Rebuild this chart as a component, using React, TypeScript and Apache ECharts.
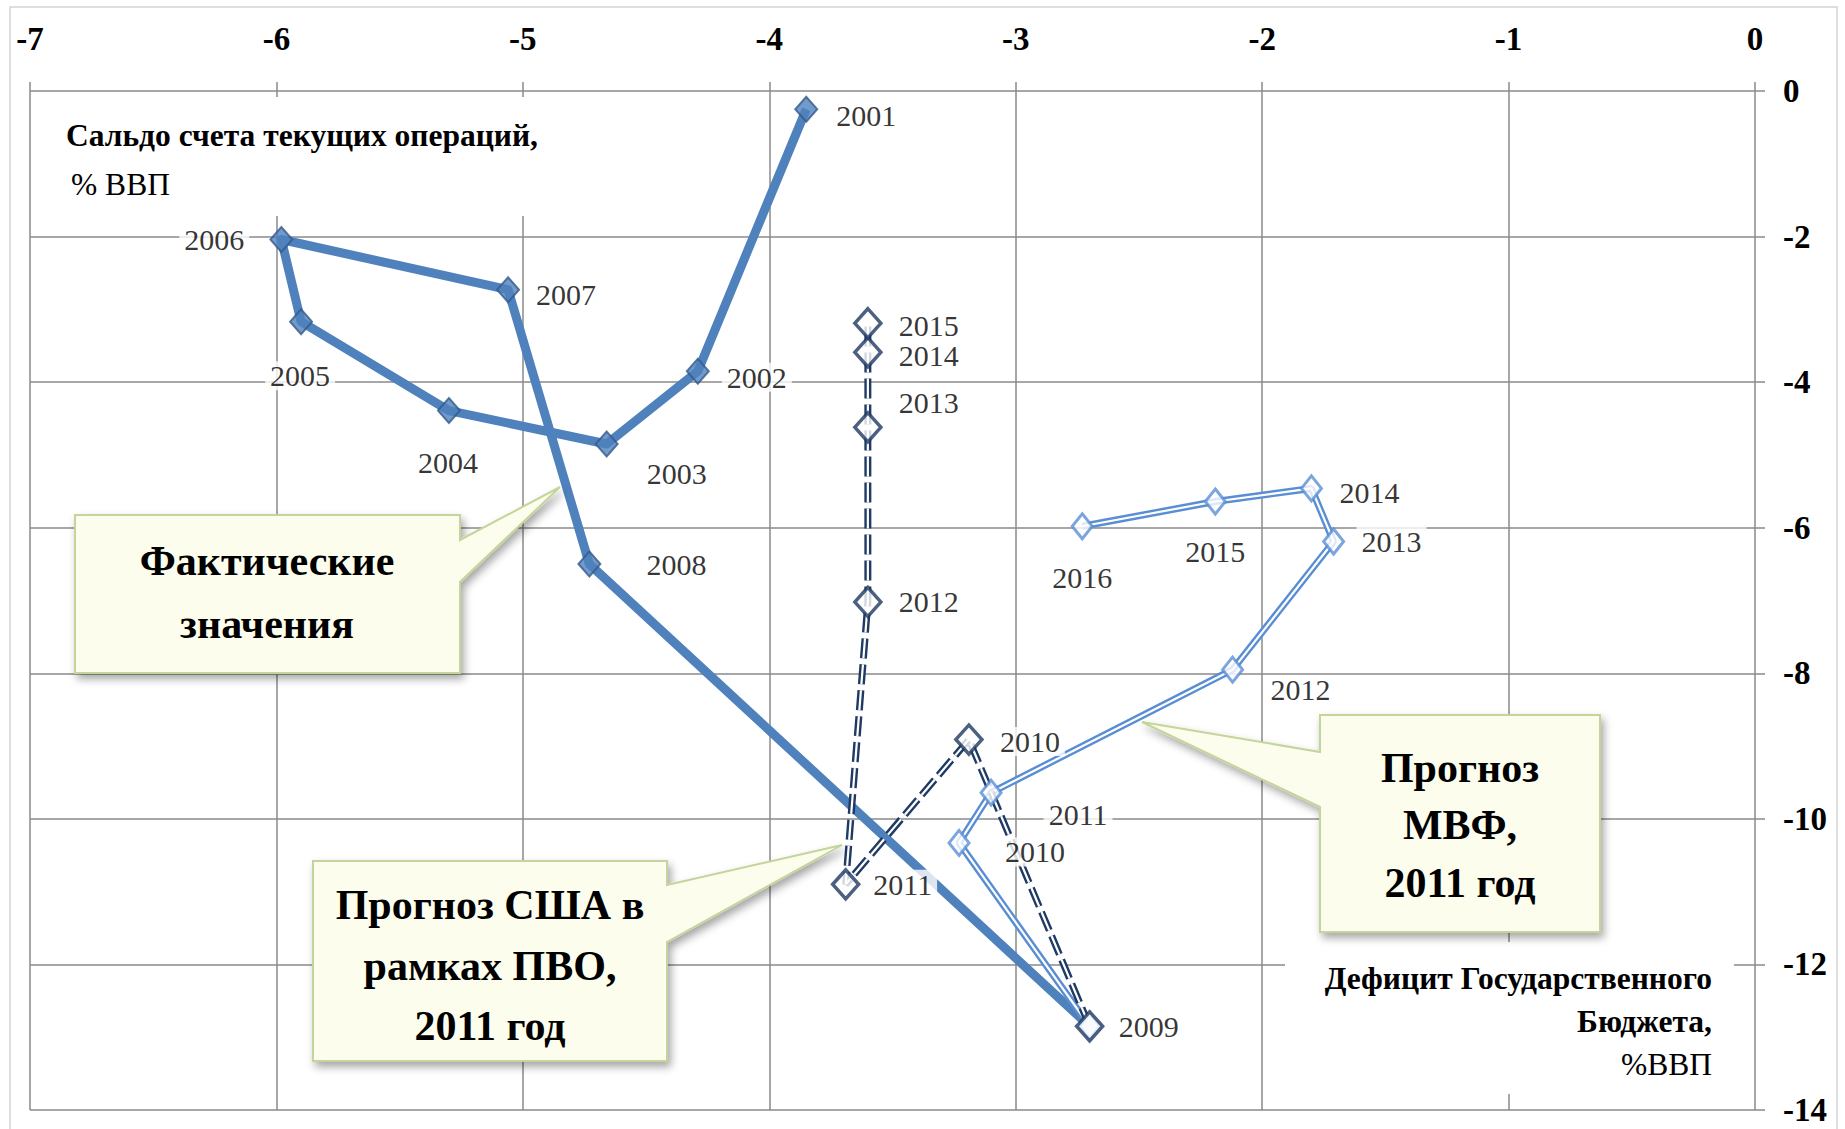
import React, { useEffect, useRef } from "react";
import * as echarts from "echarts";

// ---------- data ----------
const actualYears = ["2001", "2002", "2003", "2004", "2005", "2006", "2007", "2008", "2009"];
const actualX = [-3.85, -4.29, -4.66, -5.3, -5.9, -5.98, -5.06, -4.73, -2.7];
const actualY = [-0.25, -3.85, -4.85, -4.39, -3.17, -2.04, -2.73, -6.5, -12.85];

const usYears = ["2009", "2010", "2011", "2012", "2013", "2014", "2015"];
const usX = [-2.7, -3.19, -3.69, -3.6, -3.6, -3.6, -3.6];
const usY = [-12.85, -8.91, -10.9, -7.02, -4.62, -3.59, -3.19];

const imfYears = ["2009", "2010", "2011", "2012", "2013", "2014", "2015", "2016"];
const imfX = [-2.7, -3.23, -3.1, -2.12, -1.71, -1.8, -2.19, -2.73];
const imfY = [-12.85, -10.33, -9.64, -7.95, -6.19, -5.46, -5.64, -5.98];

const xMin = -7;
const xMax = 0;
const xStep = 1;
const yMin = -14;
const yMax = 0;
const yStep = 2;

const titleY = ["Сальдо счета текущих операций,", "% ВВП"];
const titleX = ["Дефицит Государственного", "Бюджета,", "%ВВП"];
const calloutActual = ["Фактические", "значения"];
const calloutUS = ["Прогноз США в", "рамках ПВО,", "2011 год"];
const calloutIMF = ["Прогноз", "МВФ,", "2011 год"];

// ---------- label layout (pixel offsets from marker centre) ----------
const actualLabelOffsets: (number[] | null)[] = [
  [60, 6], [59, 6], [70, 29], [-1, 52], [-1, 54], [-67, 0], [58, 5], [87, 0], null,
];
const usLabelOffsets: (number[] | null)[] = [
  [59, 0], [61, 2], [57, 0], [61, 0], [61, -25], [61, 3], [61, 2],
];
const imfLabelOffsets: (number[] | null)[] = [
  null, [76, 9], [87, 22], [68, 20], [58, 0], [58, 4], [0, 50], [0, 51],
];

const FONT = "'Liberation Serif', 'Times New Roman', serif";
const C_ACTUAL = "#4F81BD";
const C_ACTUAL_EDGE = "#355A88";
const C_US = "#1F3A63";
const C_IMF = "#5A8ED3";
const C_GRID = "#8A8A8A";

function pts(xs: number[], ys: number[]) {
  return xs.map((x, i) => [x, ys[i]]);
}

function markerData(xs: number[], ys: number[], years: string[], offsets: (number[] | null)[]) {
  return xs.map((x, i) => ({
    value: [x, ys[i]],
    name: years[i],
    label: offsets[i] ? { show: true, offset: offsets[i] } : { show: false },
  }));
}

const yearLabel = {
  show: true,
  position: "inside",
  formatter: "{b}",
  fontFamily: FONT,
  fontSize: 30,
  color: "#000",
  backgroundColor: "#fff",
  padding: [0, 5],
  lineHeight: 29,
};

function txt(text: string, x: number, y: number, size: number, weight: string, align = "center") {
  return {
    type: "text",
    x,
    y,
    z: 102,
    silent: true,
    style: {
      text,
      fill: "#000",
      fontFamily: FONT,
      fontSize: size,
      fontWeight: weight,
      align,
      verticalAlign: "middle",
      textAlign: align,
      textVerticalAlign: "middle",
    },
  };
}

const calloutStyle = {
  fill: "#FCFDED",
  stroke: "#C4D59C",
  lineWidth: 2,
  shadowBlur: 8,
  shadowColor: "rgba(0,0,0,0.35)",
  shadowOffsetX: 3,
  shadowOffsetY: 5,
};

export default function App() {
  const ref = useRef<HTMLDivElement>(null);

  useEffect(() => {
    if (!ref.current) return;
    const chart = echarts.init(ref.current, undefined, { renderer: "svg" });

    const graphic: any[] = [
      {
        type: "rect",
        z: 0,
        silent: true,
        shape: { x: 10, y: 7, width: 1827, height: 1140 },
        style: { fill: "none", stroke: "#D4D4D4", lineWidth: 1.5 },
      },
      // title (Y) background + text
      {
        type: "rect",
        z: 100,
        silent: true,
        shape: { x: 60, y: 97, width: 500, height: 119 },
        style: { fill: "#fff" },
      },
      txt(titleY[0], 66, 135, 31.5, "bold", "left"),
      txt(titleY[1], 71, 184, 31.5, "normal", "left"),
      // title (X) background + text
      {
        type: "rect",
        z: 100,
        silent: true,
        shape: { x: 1285, y: 942, width: 449, height: 152 },
        style: { fill: "#fff" },
      },
      txt(titleX[0], 1712, 978, 31.5, "bold", "right"),
      txt(titleX[1], 1712, 1021, 31.5, "bold", "right"),
      txt(titleX[2], 1712, 1064, 31.5, "normal", "right"),
      // callout: actual
      {
        type: "polygon",
        z: 101,
        silent: true,
        shape: {
          points: [[75, 515], [460, 515], [460, 540], [560, 487], [460, 582], [460, 673], [75, 673]],
        },
        style: calloutStyle,
      },
      txt(calloutActual[0], 267, 561, 42, "bold"),
      txt(calloutActual[1], 267, 624, 42, "bold"),
      // callout: US
      {
        type: "polygon",
        z: 101,
        silent: true,
        shape: {
          points: [[313, 861], [667, 861], [667, 885], [842, 845], [667, 942], [667, 1061], [313, 1061]],
        },
        style: calloutStyle,
      },
      txt(calloutUS[0], 490, 905, 42, "bold"),
      txt(calloutUS[1], 490, 966, 42, "bold"),
      txt(calloutUS[2], 490, 1026, 42, "bold"),
      // callout: IMF
      {
        type: "polygon",
        z: 101,
        silent: true,
        shape: {
          points: [[1320, 715], [1600, 715], [1600, 932], [1320, 932], [1320, 807], [1142, 722], [1320, 752]],
        },
        style: calloutStyle,
      },
      txt(calloutIMF[0], 1460, 768, 42, "bold"),
      txt(calloutIMF[1], 1460, 825, 42, "bold"),
      txt(calloutIMF[2], 1460, 883, 42, "bold"),
    ];

    const axisLabelStyle = {
      fontFamily: FONT,
      fontSize: 33,
      fontWeight: "bold",
      color: "#000",
    };

    chart.setOption({
      animation: false,
      grid: { left: 30, right: 90, top: 91, bottom: 19, containLabel: false },
      xAxis: {
        type: "value",
        position: "top",
        min: xMin,
        max: xMax,
        interval: xStep,
        axisLine: { show: false },
        axisTick: { show: true, inside: false, length: 9, lineStyle: { color: C_GRID, width: 1.5 } },
        axisLabel: { ...axisLabelStyle, margin: 36 },
        splitLine: { show: true, lineStyle: { color: C_GRID, width: 1.5 } },
      },
      yAxis: {
        type: "value",
        position: "right",
        min: yMin,
        max: yMax,
        interval: yStep,
        axisLine: { show: false },
        axisTick: { show: true, inside: false, length: 10, lineStyle: { color: C_GRID, width: 1.5 } },
        axisLabel: { ...axisLabelStyle, margin: 28, align: "left" },
        splitLine: { show: true, lineStyle: { color: C_GRID, width: 1.5 } },
      },
      graphic,
      series: [
        {
          name: "Фактические значения",
          type: "line",
          z: 2,
          data: pts(actualX, actualY),
          showSymbol: false,
          symbol: "none",
          lineStyle: { color: C_ACTUAL, width: 9, join: "round" },
          silent: true,
        },
        {
          name: "Прогноз МВФ outer",
          type: "line",
          z: 3,
          data: pts(imfX, imfY),
          symbol: "none",
          lineStyle: { color: C_IMF, width: 7 },
          silent: true,
        },
        {
          name: "Прогноз МВФ inner",
          type: "line",
          z: 3,
          data: pts(imfX, imfY),
          symbol: "none",
          lineStyle: { color: "#fff", width: 2.2 },
          silent: true,
        },
        {
          name: "Прогноз США outer",
          type: "line",
          z: 4,
          data: pts(usX, usY),
          symbol: "none",
          lineStyle: { color: C_US, width: 7, type: [20, 6] },
          silent: true,
        },
        {
          name: "Прогноз США inner",
          type: "line",
          z: 4,
          data: pts(usX, usY),
          symbol: "none",
          lineStyle: { color: "#fff", width: 2.2, type: [20, 6] },
          silent: true,
        },
        {
          name: "Фактические значения (точки)",
          type: "scatter",
          z: 6,
          symbol: "diamond",
          symbolSize: [22, 25],
          itemStyle: { color: C_ACTUAL, borderColor: C_ACTUAL_EDGE, borderWidth: 2 },
          label: yearLabel,
          data: markerData(actualX, actualY, actualYears, actualLabelOffsets),
          silent: true,
        },
        {
          name: "Прогноз МВФ (точки)",
          type: "scatter",
          z: 6,
          symbol: "diamond",
          symbolSize: [20, 25],
          itemStyle: { color: "#fff", borderColor: C_IMF, borderWidth: 3 },
          label: yearLabel,
          data: markerData(imfX, imfY, imfYears, imfLabelOffsets),
          silent: true,
        },
        {
          name: "Прогноз США (точки)",
          type: "scatter",
          z: 7,
          symbol: "diamond",
          symbolSize: [26, 29],
          itemStyle: { color: "#fff", borderColor: C_US, borderWidth: 3.5 },
          label: yearLabel,
          data: markerData(usX, usY, usYears, usLabelOffsets),
          silent: true,
        },
      ],
    });

    return () => {
      chart.dispose();
    };
  }, []);

  return (
    <div
      ref={ref}
      style={{ position: "absolute", left: 0, top: 0, width: 1845, height: 1129, background: "#fff" }}
    />
  );
}
